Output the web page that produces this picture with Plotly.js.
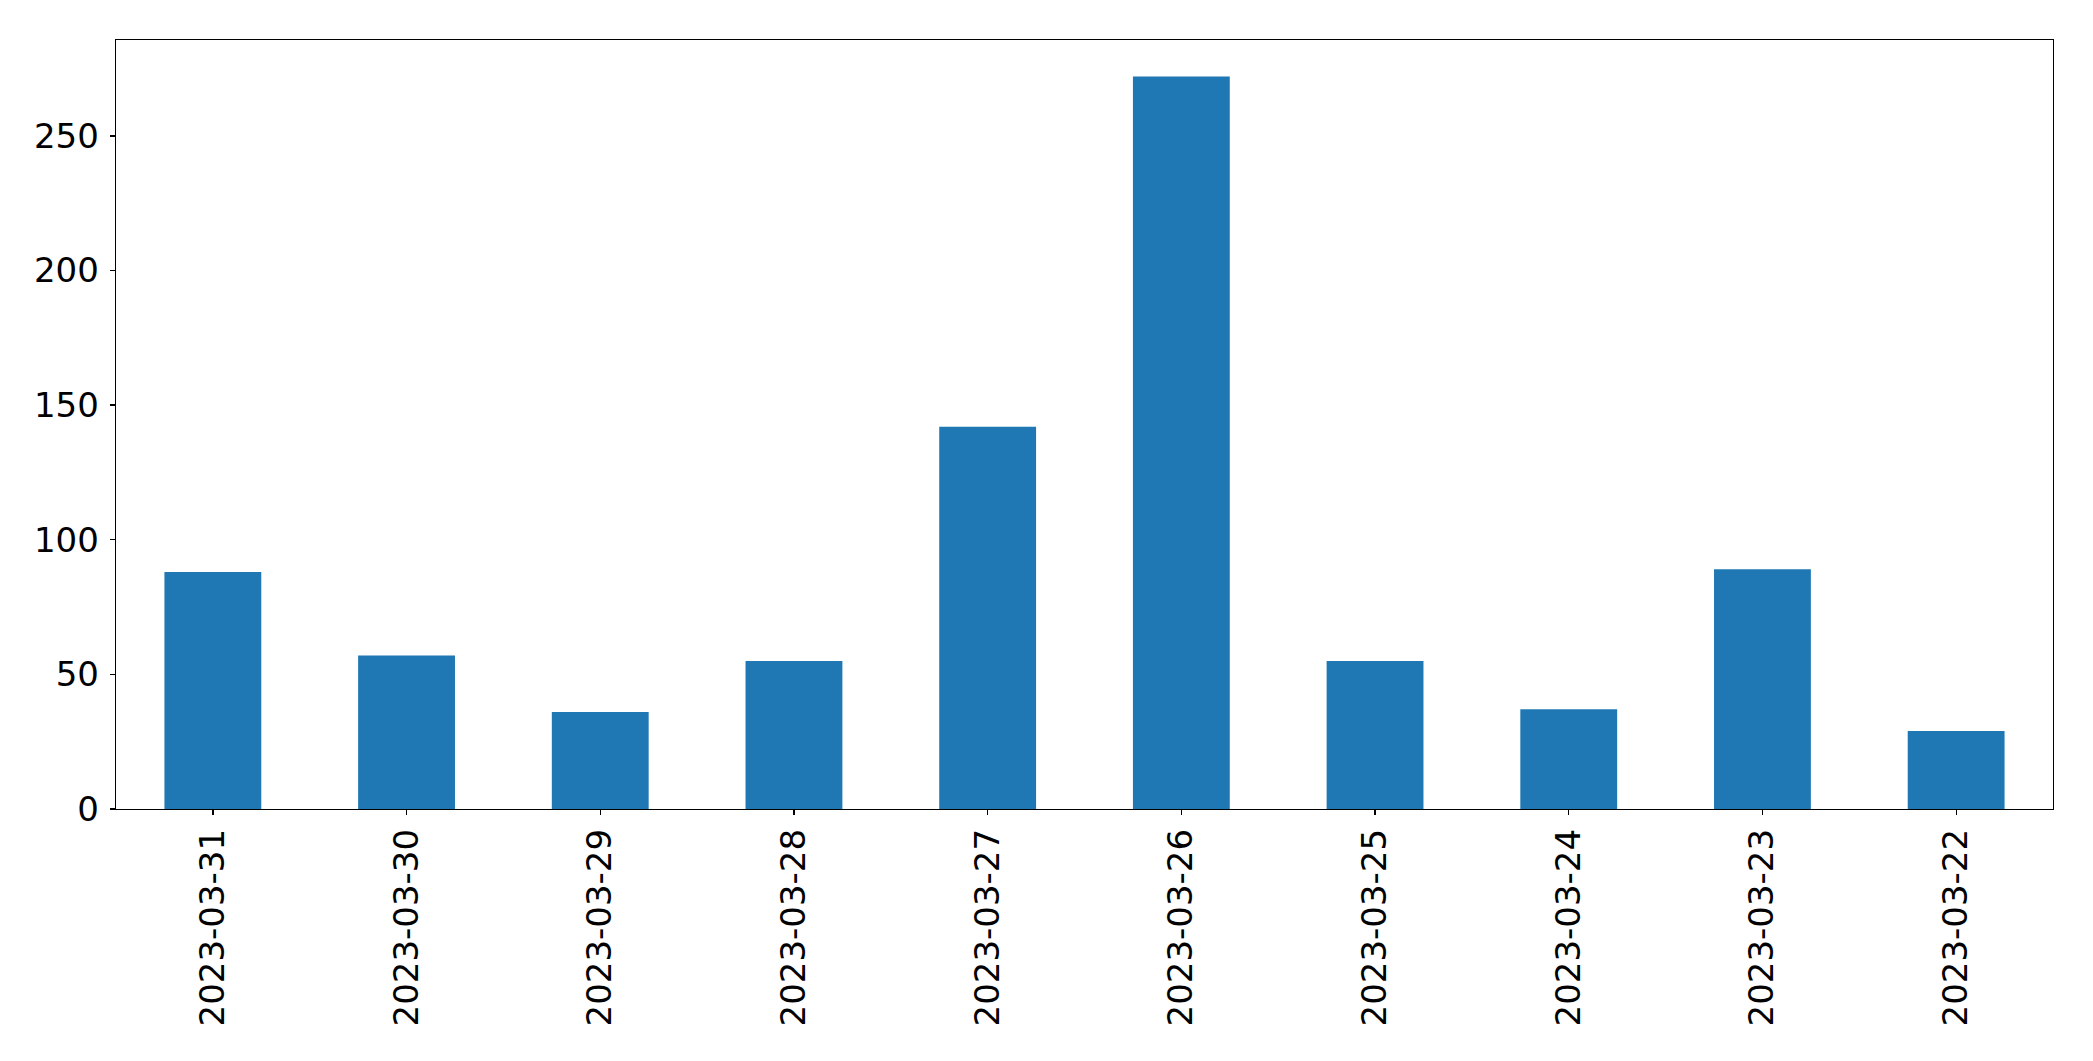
<!DOCTYPE html>
<html>
<head>
<meta charset="utf-8">
<script src="https://cdn.plot.ly/plotly-3.0.1.min.js"></script>
<style>
  html, body { margin:0; padding:0; background:#fff; }
  #chart { width:2093px; height:1061px; }
</style>
</head>
<body>
<div id="chart"></div>
<script>
// dates as they appear on the x axis (newest first)
const dates = ['2023-03-31','2023-03-30','2023-03-29','2023-03-28','2023-03-27',
               '2023-03-26','2023-03-25','2023-03-24','2023-03-23','2023-03-22'];
const counts = [88, 57, 36, 55, 142, 272, 55, 37, 89, 29];
const yTicks = [0, 50, 100, 150, 200, 250];

const trace = {
  type:'bar', x:dates, y:counts,
  marker:{color:'#1f77b4', line:{width:0}},
  hoverinfo:'x+y'
};

const axisFont = {family:'DejaVu Sans', size:34, color:'#000'};

const layout = {
  width:2093, height:1061,
  margin:{l:116, r:40, t:40, b:252, pad:0},
  paper_bgcolor:'#fff', plot_bgcolor:'#fff',
  bargap:0.5,
  showlegend:false,
  xaxis:{
    type:'category', range:[-0.5, dates.length-0.5],
    showline:true, linecolor:'#000', linewidth:1.3, mirror:true,
    ticks:'outside', ticklen:5, tickwidth:1.3, tickcolor:'#000',
    tickangle:-90, tickfont:axisFont, showgrid:false, zeroline:false,
    automargin:false
  },
  yaxis:{
    range:[0, 272*1.05], tickvals:yTicks, ticktext:yTicks.map(String),
    showline:true, linecolor:'#000', linewidth:1.3, mirror:true,
    ticks:'outside', ticklen:5, tickwidth:1.3, tickcolor:'#000',
    tickfont:axisFont, showgrid:false, zeroline:false,
    ticklabelstandoff:4,
    automargin:false
  }
};

Plotly.newPlot('chart', [trace], layout, {displayModeBar:false, staticPlot:true});
</script>
</body>
</html>
